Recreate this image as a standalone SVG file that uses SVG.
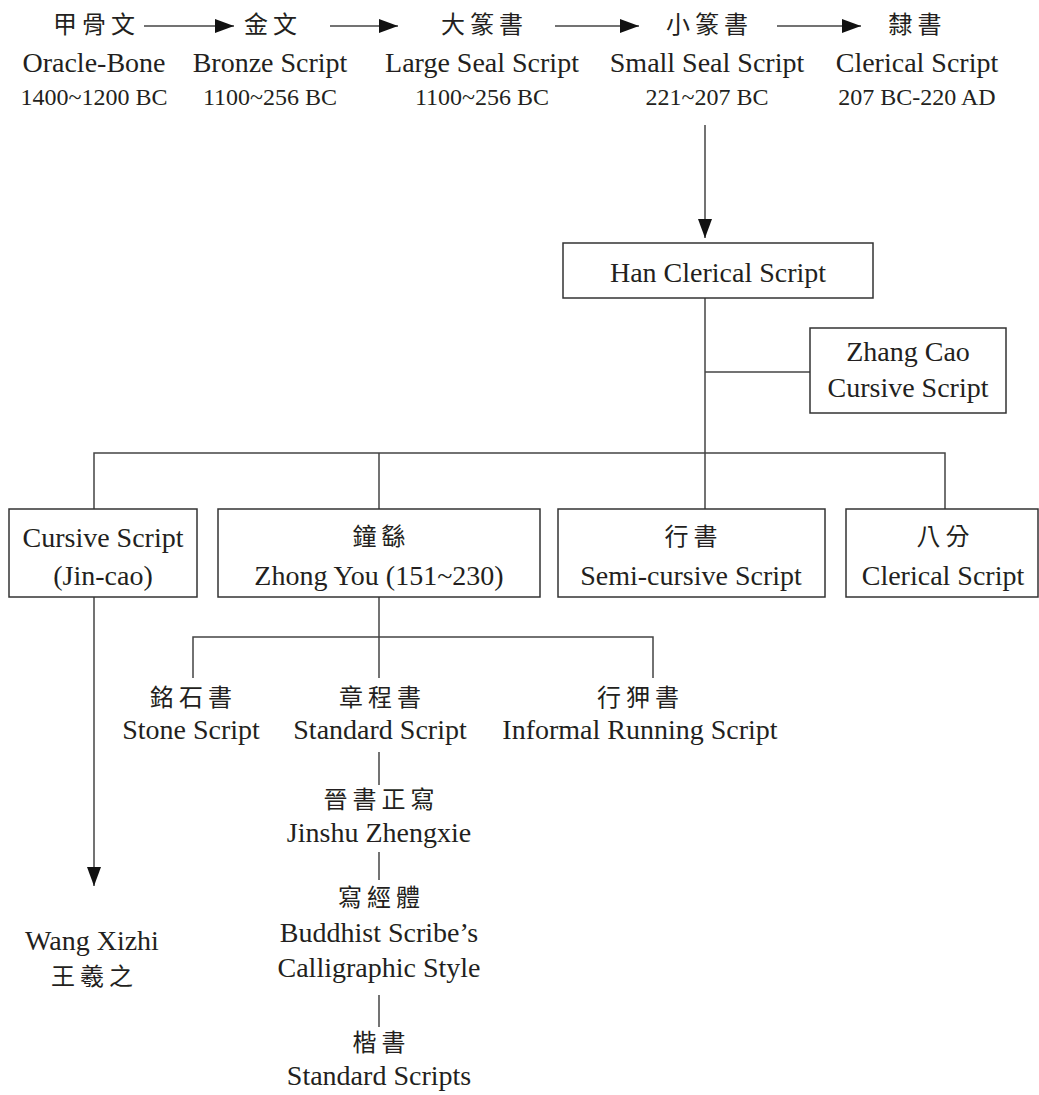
<svg xmlns="http://www.w3.org/2000/svg" width="1039" height="1095" viewBox="0 0 1039 1095">
<style>
.en{font-family:"Liberation Serif","Times New Roman",serif;font-size:28px;fill:#231f20;text-anchor:middle}
.dt{font-family:"Liberation Serif","Times New Roman",serif;font-size:24px;fill:#231f20;text-anchor:middle}
.zh{font-family:"Noto Sans CJK TC","Noto Sans CJK SC",sans-serif;font-size:24px;fill:#231f20;text-anchor:middle;letter-spacing:5px}
.box{fill:#fff;stroke:#333;stroke-width:1.5}
.ln{fill:none;stroke:#444;stroke-width:1.5}
.ar{fill:none;stroke:#444;stroke-width:1.5;marker-end:url(#ah)}
</style>
<defs>
<marker id="ah" markerUnits="userSpaceOnUse" markerWidth="20" markerHeight="14" refX="19" refY="7" orient="auto">
<path d="M0,0 L19,7 L0,14 z" fill="#111"/>
</marker>
</defs>
<rect width="1039" height="1095" fill="#fff"/>

<g id="connectors">
<line class="ar" x1="144" y1="26" x2="234" y2="26"/>
<line class="ar" x1="330" y1="26" x2="398" y2="26"/>
<line class="ar" x1="555" y1="26" x2="639" y2="26"/>
<line class="ar" x1="777" y1="26" x2="861" y2="26"/>
<line class="ar" x1="705" y1="125" x2="705" y2="238"/>
<line class="ln" x1="705" y1="298" x2="705" y2="453"/>
<line class="ln" x1="705" y1="372" x2="810" y2="372"/>
<polyline class="ln" points="94,509 94,453 945,453 945,509"/>
<line class="ln" x1="379" y1="453" x2="379" y2="509"/>
<line class="ln" x1="705" y1="453" x2="705" y2="509"/>
<line class="ar" x1="94" y1="597" x2="94" y2="886"/>
<line class="ln" x1="379" y1="597" x2="379" y2="678"/>
<polyline class="ln" points="193,678 193,637 653,637 653,678"/>
<line class="ln" x1="379" y1="752" x2="379" y2="785"/>
<line class="ln" x1="379" y1="852" x2="379" y2="880"/>
<line class="ln" x1="379" y1="995" x2="379" y2="1027"/>
</g>

<g id="oracle-bone">
<text class="zh" x="96.5" y="33">甲骨文</text>
<text class="en" x="94" y="72">Oracle-Bone</text>
<text class="dt" x="94" y="105">1400~1200 BC</text>
</g>
<g id="bronze">
<text class="zh" x="273" y="33">金文</text>
<text class="en" x="270" y="72">Bronze Script</text>
<text class="dt" x="270" y="105">1100~256 BC</text>
</g>
<g id="large-seal">
<text class="zh" x="484.5" y="33">大篆書</text>
<text class="en" x="482" y="72">Large Seal Script</text>
<text class="dt" x="482" y="105">1100~256 BC</text>
</g>
<g id="small-seal">
<text class="zh" x="709.5" y="33">小篆書</text>
<text class="en" x="707" y="72">Small Seal Script</text>
<text class="dt" x="707" y="105">221~207 BC</text>
</g>
<g id="clerical">
<text class="zh" x="917.5" y="33">隸書</text>
<text class="en" x="917" y="72">Clerical Script</text>
<text class="dt" x="917" y="105">207 BC-220 AD</text>
</g>

<g id="han-clerical">
<rect class="box" x="563" y="243" width="310" height="55"/>
<text class="en" x="718" y="282">Han Clerical Script</text>
</g>
<g id="zhang-cao">
<rect class="box" x="810" y="328" width="196" height="85"/>
<text class="en" x="908" y="361">Zhang Cao</text>
<text class="en" x="908" y="397">Cursive Script</text>
</g>

<g id="jin-cao">
<rect class="box" x="9" y="509" width="188" height="88"/>
<text class="en" x="103" y="547">Cursive Script</text>
<text class="en" x="103" y="585">(Jin-cao)</text>
</g>
<g id="zhong-you">
<rect class="box" x="218" y="509" width="322" height="88"/>
<text class="zh" x="381.5" y="545">鐘繇</text>
<text class="en" x="379" y="585">Zhong You (151~230)</text>
</g>
<g id="semi-cursive">
<rect class="box" x="558" y="509" width="267" height="88"/>
<text class="zh" x="693.5" y="545">行書</text>
<text class="en" x="691" y="585">Semi-cursive Script</text>
</g>
<g id="bafen">
<rect class="box" x="846" y="509" width="192" height="88"/>
<text class="zh" x="945.5" y="545">八分</text>
<text class="en" x="943" y="585">Clerical Script</text>
</g>

<g id="wang-xizhi">
<text class="en" x="92" y="950">Wang Xizhi</text>
<text class="zh" x="94.5" y="985">王羲之</text>
</g>

<g id="stone">
<text class="zh" x="193.5" y="706">銘石書</text>
<text class="en" x="191" y="739">Stone Script</text>
</g>
<g id="standard">
<text class="zh" x="382.5" y="706">章程書</text>
<text class="en" x="380" y="739">Standard Script</text>
</g>
<g id="informal">
<text class="zh" x="640.5" y="706">行狎書</text>
<text class="en" x="640" y="739">Informal Running Script</text>
</g>
<g id="jinshu">
<text class="zh" x="381.5" y="808">晉書正寫</text>
<text class="en" x="379" y="842">Jinshu Zhengxie</text>
</g>
<g id="buddhist">
<text class="zh" x="381.5" y="906">寫經體</text>
<text class="en" x="379" y="942">Buddhist Scribe’s</text>
<text class="en" x="379" y="977">Calligraphic Style</text>
</g>
<g id="kaishu">
<text class="zh" x="381.5" y="1051">楷書</text>
<text class="en" x="379" y="1085">Standard Scripts</text>
</g>
</svg>
